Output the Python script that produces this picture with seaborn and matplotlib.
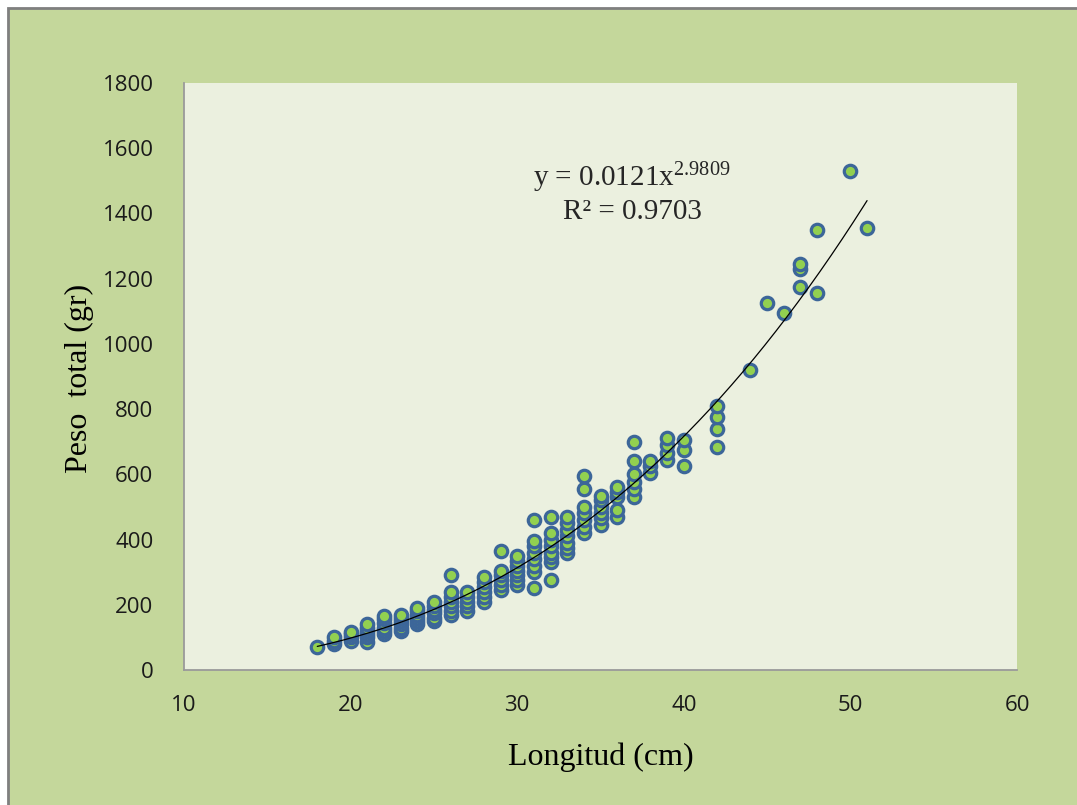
import numpy as np
import pandas as pd
import matplotlib
matplotlib.use("Agg")
import matplotlib.pyplot as plt
from matplotlib.patches import Rectangle
import seaborn as sns

# longitud (cm) y peso total (gr)
longitud = ([18] + [19] * 3 + [20] * 4 + [21] * 6 + [22] * 6 + [23] * 6 + [24] * 6
            + [25] * 6 + [26] * 7 + [27] * 5 + [28] * 6 + [29] * 6 + [30] * 7
            + [31] * 8 + [32] * 8 + [33] * 7 + [34] * 7 + [35] * 6 + [36] * 5
            + [37] * 6 + [38] * 3 + [39] * 4 + [40] * 3 + [42] * 4 + [44] + [45]
            + [46] + [47] * 3 + [48] * 2 + [50] + [51])
peso = [70,
        80, 90, 100,
        90, 100, 110, 115,
        85, 100, 110, 120, 130, 140,
        110, 120, 130, 145, 155, 165,
        120, 130, 140, 150, 160, 170,
        140, 150, 160, 170, 180, 190,
        150, 160, 175, 185, 195, 210,
        170, 180, 195, 210, 225, 240, 290,
        180, 195, 210, 225, 240,
        210, 225, 240, 255, 270, 285,
        245, 260, 275, 290, 305, 365,
        260, 275, 290, 305, 320, 335, 350,
        250, 300, 320, 340, 360, 380, 395, 460,
        275, 330, 345, 360, 380, 400, 420, 470,
        360, 375, 390, 410, 430, 450, 470,
        420, 440, 460, 480, 500, 555, 595,
        445, 465, 480, 500, 520, 535,
        470, 490, 530, 545, 560,
        530, 555, 575, 600, 640, 700,
        605, 625, 640,
        645, 665, 690, 710,
        625, 675, 705,
        685, 740, 775, 810,
        920,
        1125,
        1095,
        1175, 1230, 1245,
        1155, 1350,
        1530,
        1355]

x_ticks = [10, 20, 30, 40, 50, 60]
y_ticks = [0, 200, 400, 600, 800, 1000, 1200, 1400, 1600, 1800]

df = pd.DataFrame({"Longitud": longitud, "Peso": peso})

# ajuste potencial (como la linea de tendencia de Excel)
b, log_a = np.polyfit(np.log(df["Longitud"]), np.log(df["Peso"]), 1)
xs = np.linspace(min(longitud), max(longitud), 200)
trend = pd.DataFrame({"x": xs, "y": np.exp(log_a) * xs ** b})

sns.set_style("white")
plt.rcParams["mathtext.default"] = "regular"

fig = plt.figure(figsize=(10.77, 8.05), dpi=100, facecolor="white")
fig.patches.append(Rectangle((8 / 1077, -0.05), 1.1, (805 - 8) / 805 + 0.05,
                             transform=fig.transFigure, facecolor="#c4d79b",
                             edgecolor="#7f7f7f", linewidth=2, zorder=-10))

ax = fig.add_axes([184 / 1077, 135 / 805, 833 / 1077, 587 / 805])
ax.set_facecolor("#ebf0df")

sns.scatterplot(data=df, x="Longitud", y="Peso", ax=ax, s=80,
                color="#92d050", edgecolor="#3c6699", linewidth=2.3, zorder=3)
sns.lineplot(data=trend, x="x", y="y", ax=ax, color="black", linewidth=0.9,
             zorder=4)

ax.set_xlim(10, 60)
ax.set_ylim(0, 1800)
ax.set_xticks(x_ticks)
ax.set_yticks(y_ticks)
ax.tick_params(length=0, labelsize=16, colors="#1a1a1a")
ax.tick_params(axis="y", pad=22)
ax.tick_params(axis="x", pad=18)
for lab in ax.get_xticklabels() + ax.get_yticklabels():
    lab.set_family("Open Sans")

for side in ["top", "right"]:
    ax.spines[side].set_visible(False)
for side in ["left", "bottom"]:
    ax.spines[side].set_color("#9a9a9a")
    ax.spines[side].set_linewidth(1.3)

ax.set_xlabel("Longitud (cm)", fontsize=23, family="Liberation Serif",
              color="black", va="center")
ax.set_ylabel("Peso  total (gr)", fontsize=23, family="Liberation Serif",
              color="black", va="center")
ax.xaxis.set_label_coords(0.5, -0.148)
ax.yaxis.set_label_coords(-0.126, 0.497)

ax.text(0.538, 0.838, r"y = 0.0121x$^{2.9809}$", transform=ax.transAxes,
        ha="center", va="center", fontsize=21, family="Liberation Serif")
ax.text(0.538, 0.780, "R² = 0.9703", transform=ax.transAxes,
        ha="center", va="center", fontsize=21, family="Liberation Serif")

fig.savefig("out.png", dpi=100, facecolor=fig.get_facecolor())
